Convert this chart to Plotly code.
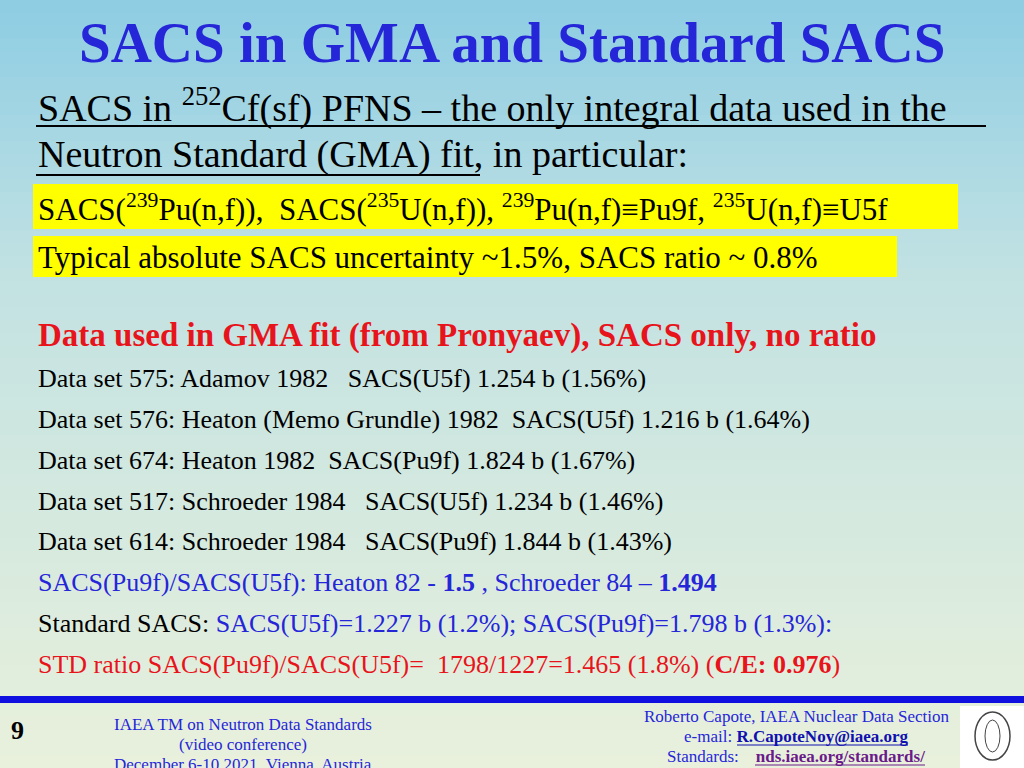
import plotly.graph_objs as go

set_ids = [575, 576, 674, 517, 614]
authors = ["Adamov 1982   ", "Heaton (Memo Grundle) 1982  ", "Heaton 1982  ", "Schroeder 1984   ", "Schroeder 1984   "]
reactions = ["U5f", "U5f", "Pu9f", "U5f", "Pu9f"]
sacs_b = [1.254, 1.216, 1.824, 1.234, 1.844]
unc_pct = [1.56, 1.64, 1.67, 1.46, 1.43]

BLUE = "#2626d9"
RED = "#e8141c"
SERIF = "Liberation Serif"
W, H = 1024, 768

def px(x):
    return x / W

def py(y):
    return 1 - y / H

def mix(a, b, t):
    return "#%02x%02x%02x" % tuple(int(a[i] + (b[i] - a[i]) * t) for i in range(3))

shapes = []
n = 60
for k in range(n):
    t = k / (n - 1)
    c = mix((143, 205, 227), (194, 226, 227), t / 0.35) if t < 0.35 else mix((194, 226, 227), (233, 241, 220), (t - 0.35) / 0.65)
    shapes.append(dict(type="rect", xref="paper", yref="paper", x0=0, x1=1,
                       y0=py(H * (k + 1) / n + 1), y1=py(H * k / n), fillcolor=c, line_width=0, layer="below"))

def box(kind, x0, x1, y0, y1, **kw):
    shapes.append(dict(type=kind, xref="paper", yref="paper", x0=px(x0), x1=px(x1), y0=py(y1), y1=py(y0), **kw))

ann = []
def txt(x, y, s, size, color="black", anchor="left", bold=False):
    if bold:
        s = "<b>" + s + "</b>"
    s = "<span style='font-family:Liberation Serif,serif'>" + s + "</span>"
    ann.append(dict(x=px(x), y=py(y), xref="paper", yref="paper", text=s, showarrow=False,
                    xanchor=anchor, yanchor="middle", font=dict(family=SERIF, size=size, color=color)))

box("rect", 33, 958, 184, 229, fillcolor="#ffff00", line_width=0, layer="below")
box("rect", 33, 897, 236, 277, fillcolor="#ffff00", line_width=0, layer="below")
box("line", 36, 986, 126, 126, line=dict(color="black", width=2))
box("line", 36, 480, 175, 175, line=dict(color="black", width=2))
box("rect", 0, 1024, 696, 703, fillcolor="#1010e0", line_width=0)
box("rect", 960, 1024, 706, 768, fillcolor="white", line_width=0)
box("circle", 975, 1010, 712, 760, line=dict(color="#444", width=1.5))
box("circle", 985, 1000, 720, 752, line=dict(color="#444", width=1))
box("line", 737, 908, 745, 745, line=dict(color="#1010b0", width=1))
box("line", 755, 925, 765, 765, line=dict(color="#6a1a8a", width=1))

txt(512, 42, "SACS in GMA and Standard SACS", 57, BLUE, "center", True)
txt(36, 105, "SACS in <sup>252</sup>Cf(sf) PFNS – the only integral data used in the", 38)
txt(36, 155, "Neutron Standard (GMA) fit, in particular:", 38)
txt(36, 207, "SACS(<sup>239</sup>Pu(n,f)),  SACS(<sup>235</sup>U(n,f)), <sup>239</sup>Pu(n,f)≡Pu9f, <sup>235</sup>U(n,f)≡U5f", 31)
txt(36, 257, "Typical absolute SACS uncertainty ~1.5%, SACS ratio ~ 0.8%", 31)
txt(36, 335, "Data used in GMA fit (from Pronyaev), SACS only, no ratio", 33, RED, bold=True)

for i in range(len(set_ids)):
    txt(36, 379 + i * 40.7,
        f"Data set {set_ids[i]}: {authors[i]}SACS({reactions[i]}) {sacs_b[i]:.3f} b ({unc_pct[i]:.2f}%)", 26)

txt(36, 582, "SACS(Pu9f)/SACS(U5f): Heaton 82 - <b>1.5</b> , Schroeder 84 – <b>1.494</b>", 26, BLUE)
txt(36, 623, f"Standard SACS: <span style='color:{BLUE}'>SACS(U5f)=1.227 b (1.2%); SACS(Pu9f)=1.798 b (1.3%):</span>", 26)
txt(36, 664, "STD ratio SACS(Pu9f)/SACS(U5f)=  1798/1227=1.465 (1.8%) (<b>C/E: 0.976</b>)", 26, RED)

txt(17, 730, "9", 26, "black", "center", True)
for j, s in enumerate(["IAEA TM on Neutron Data Standards", "(video conference)", "December 6-10 2021, Vienna, Austria"]):
    txt(243, 724 + 20 * j, s, 17, BLUE, "center")
for j, s in enumerate(["Roberto Capote, IAEA Nuclear Data Section",
                       "e-mail: <b><span style='color:#1010b0'>R.CapoteNoy@iaea.org</span></b>",
                       "Standards:    <b><span style='color:#6a1a8a'>nds.iaea.org/standards/</span></b>"]):
    txt(796, 716 + 20 * j, s, 17, BLUE, "center")

fig = go.Figure()
fig.update_layout(width=W, height=H, margin=dict(l=0, r=0, t=0, b=0),
                  font=dict(family=SERIF),
                  xaxis=dict(visible=False), yaxis=dict(visible=False),
                  annotations=ann, shapes=shapes, plot_bgcolor="white", paper_bgcolor="white",
                  showlegend=False)
fig.write_html("out.html", config={"displayModeBar": False},
               post_script="document.body.style.margin='0';")
